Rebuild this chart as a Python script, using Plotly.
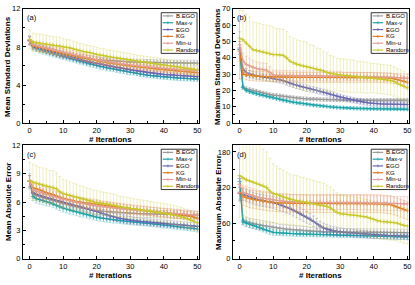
import plotly.graph_objects as go

names = ["B.EGO", "Max-v", "EGO", "KG", "Min-u", "Random"]
colors = ["#9b9b9b", "#1ba3a8", "#6767b3", "#e07a1c", "#e79a9a", "#c8c82a"]
bar_colors = ["rgba(150,150,150,0.55)", "rgba(27,163,168,0.45)", "rgba(103,103,179,0.45)",
              "rgba(224,122,28,0.45)", "rgba(231,154,154,0.55)", "rgba(205,205,60,0.45)"]

panel_letters = ["(a)", "(b)", "(c)", "(d)"]
y_titles = ["Mean Standard Deviations", "Maximum Standard Deviations",
            "Mean Absolute Error", "Maximum Absolute Error"]
x_title = "# Iterations"
y_ranges = [[0, 12], [0, 70], [0, 12], [0, 191]]
y_dticks = [4, 10, 3, 60]

# ---------------- (a) Mean Standard Deviations ----------------
bego_a = [8.7, 8.2, 8.05, 7.9, 7.8, 7.7, 7.6, 7.5, 7.4, 7.3, 7.22,
          7.14, 7.06, 7.0, 6.94, 6.88, 6.83, 6.78, 6.74, 6.7, 6.66,
          6.63, 6.6, 6.57, 6.54, 6.52, 6.5, 6.48, 6.46, 6.44, 6.43,
          6.42, 6.41, 6.4, 6.39, 6.38, 6.37, 6.36, 6.35, 6.35, 6.34,
          6.34, 6.33, 6.33, 6.32, 6.32, 6.31, 6.31, 6.3, 6.3, 6.3]
maxv_a = [8.7, 8.0, 7.85, 7.7, 7.6, 7.5, 7.4, 7.3, 7.2, 7.1, 7.0,
          6.9, 6.8, 6.7, 6.6, 6.5, 6.4, 6.3, 6.2, 6.15, 6.05,
          5.95, 5.9, 5.8, 5.75, 5.7, 5.62, 5.55, 5.5, 5.42, 5.35,
          5.3, 5.22, 5.15, 5.1, 5.05, 5.0, 4.96, 4.92, 4.88, 4.85,
          4.82, 4.79, 4.76, 4.74, 4.72, 4.7, 4.68, 4.66, 4.65, 4.63]
ego_a = [8.7, 8.1, 7.95, 7.85, 7.75, 7.65, 7.55, 7.45, 7.35, 7.25, 7.15,
         7.05, 6.95, 6.85, 6.75, 6.65, 6.58, 6.5, 6.42, 6.35, 6.28,
         6.2, 6.12, 6.05, 5.98, 5.9, 5.84, 5.78, 5.72, 5.66, 5.6,
         5.55, 5.5, 5.44, 5.38, 5.33, 5.28, 5.24, 5.2, 5.16, 5.12,
         5.09, 5.06, 5.03, 5.0, 4.98, 4.96, 4.94, 4.92, 4.9, 4.88]
kg_a = [8.6, 8.15, 8.05, 7.95, 7.85, 7.78, 7.7, 7.6, 7.5, 7.42, 7.33,
        7.25, 7.17, 7.08, 7.0, 6.92, 6.84, 6.77, 6.7, 6.62, 6.55,
        6.48, 6.42, 6.36, 6.3, 6.24, 6.19, 6.14, 6.09, 6.04, 6.0,
        5.96, 5.92, 5.88, 5.84, 5.8, 5.76, 5.72, 5.68, 5.64, 5.6,
        5.57, 5.54, 5.51, 5.48, 5.45, 5.42, 5.39, 5.36, 5.33, 5.3]
minu_a = [8.7, 8.25, 8.15, 8.05, 7.95, 7.88, 7.8, 7.7, 7.6, 7.52, 7.44,
          7.36, 7.28, 7.2, 7.12, 7.04, 6.96, 6.88, 6.8, 6.72, 6.65,
          6.58, 6.52, 6.46, 6.4, 6.34, 6.29, 6.24, 6.19, 6.14, 6.1,
          6.06, 6.02, 5.98, 5.94, 5.9, 5.87, 5.84, 5.81, 5.78, 5.75,
          5.72, 5.69, 5.66, 5.63, 5.6, 5.58, 5.56, 5.54, 5.52, 5.5]
rand_a = [8.8, 8.5, 8.45, 8.4, 8.35, 8.3, 8.25, 8.2, 8.15, 8.1, 8.0,
          7.95, 7.9, 7.8, 7.7, 7.6, 7.5, 7.45, 7.4, 7.3, 7.2,
          7.15, 7.1, 7.0, 6.95, 6.9, 6.85, 6.8, 6.7, 6.65, 6.6,
          6.55, 6.5, 6.45, 6.4, 6.35, 6.3, 6.25, 6.2, 6.15, 6.1,
          6.05, 6.0, 5.95, 5.9, 5.85, 5.8, 5.75, 5.7, 5.65, 5.6]

bego_a_err = [0.45, 0.35, 0.35, 0.35, 0.35, 0.35, 0.35, 0.35, 0.35, 0.35, 0.35,
              0.35, 0.35, 0.35, 0.35, 0.35, 0.35, 0.35, 0.35, 0.35, 0.35,
              0.3, 0.3, 0.3, 0.3, 0.3, 0.3, 0.3, 0.3, 0.3, 0.3,
              0.3, 0.3, 0.3, 0.3, 0.3, 0.3, 0.3, 0.3, 0.3, 0.3,
              0.3, 0.3, 0.3, 0.3, 0.3, 0.3, 0.3, 0.3, 0.3, 0.3]
maxv_a_err = [0.4, 0.35, 0.35, 0.35, 0.35, 0.35, 0.35, 0.35, 0.35, 0.35, 0.3,
              0.3, 0.3, 0.3, 0.3, 0.3, 0.3, 0.3, 0.3, 0.3, 0.3,
              0.3, 0.3, 0.3, 0.3, 0.3, 0.3, 0.3, 0.3, 0.3, 0.3,
              0.25, 0.25, 0.25, 0.25, 0.25, 0.25, 0.25, 0.25, 0.25, 0.25,
              0.25, 0.25, 0.25, 0.25, 0.25, 0.25, 0.25, 0.25, 0.25, 0.25]
ego_a_err = [0.4, 0.35, 0.35, 0.35, 0.35, 0.35, 0.35, 0.35, 0.35, 0.35, 0.35,
             0.3, 0.3, 0.3, 0.3, 0.3, 0.3, 0.3, 0.3, 0.3, 0.3,
             0.3, 0.3, 0.3, 0.3, 0.3, 0.3, 0.3, 0.3, 0.3, 0.3,
             0.3, 0.3, 0.3, 0.3, 0.3, 0.3, 0.3, 0.3, 0.3, 0.3,
             0.25, 0.25, 0.25, 0.25, 0.25, 0.25, 0.25, 0.25, 0.25, 0.25]
kg_a_err = [0.45, 0.4, 0.4, 0.4, 0.4, 0.4, 0.4, 0.4, 0.4, 0.4, 0.4,
            0.35, 0.35, 0.35, 0.35, 0.35, 0.35, 0.35, 0.35, 0.35, 0.35,
            0.35, 0.35, 0.35, 0.35, 0.35, 0.35, 0.35, 0.35, 0.35, 0.35,
            0.3, 0.3, 0.3, 0.3, 0.3, 0.3, 0.3, 0.3, 0.3, 0.3,
            0.3, 0.3, 0.3, 0.3, 0.3, 0.3, 0.3, 0.3, 0.3, 0.3]
minu_a_err = [0.45, 0.4, 0.4, 0.4, 0.4, 0.4, 0.4, 0.4, 0.4, 0.4, 0.4,
              0.4, 0.4, 0.4, 0.4, 0.35, 0.35, 0.35, 0.35, 0.35, 0.35,
              0.35, 0.35, 0.35, 0.35, 0.35, 0.35, 0.35, 0.35, 0.35, 0.35,
              0.35, 0.35, 0.35, 0.35, 0.35, 0.35, 0.35, 0.35, 0.35, 0.35,
              0.3, 0.3, 0.3, 0.3, 0.3, 0.3, 0.3, 0.3, 0.3, 0.3]
rand_a_err = [1.0, 0.95, 0.95, 0.95, 0.95, 0.9, 0.9, 0.9, 0.9, 0.9, 0.85,
              0.85, 0.85, 0.8, 0.8, 0.8, 0.8, 0.75, 0.75, 0.75, 0.75,
              0.7, 0.7, 0.7, 0.7, 0.7, 0.7, 0.7, 0.7, 0.7, 0.7,
              0.65, 0.65, 0.65, 0.65, 0.65, 0.65, 0.65, 0.65, 0.65, 0.65,
              0.6, 0.6, 0.6, 0.6, 0.6, 0.6, 0.6, 0.6, 0.6, 0.6]

# ---------------- (b) Maximum Standard Deviations ----------------
bego_b = [45, 22, 21, 20.5, 20, 19.5, 19, 18.5, 18, 17.5, 17.2,
          17, 16.7, 16.4, 16.1, 15.8, 15.6, 15.4, 15.2, 15, 14.9,
          14.8, 14.7, 14.6, 14.5, 14.4, 14.4, 14.3, 14.3, 14.2, 14.2,
          14.2, 14.1, 14.1, 14.1, 14.1, 14.1, 14, 14, 14, 14,
          14, 14, 14, 14, 14, 14, 14, 14, 14, 14]
maxv_b = [45, 22, 20, 19.2, 18.5, 18, 17.5, 17, 16.5, 16, 15.5,
          15, 14.5, 14, 13.6, 13.2, 12.8, 12.5, 12.2, 11.9, 11.6,
          11.3, 11, 10.8, 10.6, 10.4, 10.2, 10, 9.8, 9.6, 9.5,
          9.4, 9.3, 9.2, 9.1, 9, 8.95, 8.9, 8.85, 8.8, 8.8,
          8.75, 8.75, 8.7, 8.7, 8.65, 8.65, 8.6, 8.6, 8.55, 8.5]
ego_b = [46, 33, 31, 30, 29.5, 29, 28.7, 28.4, 28.1, 27.8, 27.5,
         27, 26.5, 26, 25.2, 24.5, 23.8, 23.2, 22.6, 22, 21.5,
         21, 20.5, 20, 19.5, 19, 18.5, 17.8, 17.2, 16.6, 16,
         15.5, 15, 14.5, 14, 13.6, 13.2, 12.8, 12.5, 12.2, 12,
         11.9, 11.8, 11.7, 11.6, 11.6, 11.5, 11.5, 11.5, 11.4, 11.4]
kg_b = [44, 30, 29.5, 29.2, 29, 28.8, 28.7, 28.6, 28.5, 28.4, 28.3,
        28.3, 28.2, 28.2, 28.2, 28.1, 28.1, 28.1, 28, 28, 28,
        28, 28, 28, 28, 28, 28, 28, 28, 28, 28,
        28, 28, 28, 28, 28, 28, 28, 28, 28, 27.9,
        27.9, 27.8, 27.8, 27.7, 27.5, 27.2, 26.8, 26.2, 25.6, 25]
minu_b = [48, 38, 36, 35, 34, 33.5, 33, 32.8, 32.5, 31, 29.5,
          29.4, 29.3, 29.2, 29.2, 29.1, 29.1, 29, 29, 29, 29,
          29, 29, 29, 29, 28.9, 28.9, 28.8, 28.8, 28.8, 28.7,
          28.7, 28.7, 28.6, 28.6, 28.6, 28.5, 28.5, 28.5, 28.4, 28.4,
          28.3, 28.3, 28.2, 28.2, 28.1, 28, 27.9, 27.8, 27.6, 27.4]
rand_b = [52, 51, 49, 47, 45, 44.5, 44, 43.5, 43, 42.5, 42,
          42, 41.8, 41.5, 40, 38, 37, 36, 35.5, 35, 34.5,
          34, 33.5, 33, 32.5, 32, 31, 30.5, 30, 29.8, 29.5,
          29.3, 29, 28.8, 28.6, 28.4, 28.2, 28, 27.8, 27.7, 27.5,
          27.3, 27, 26.8, 26.5, 26.2, 25.5, 24.5, 23.5, 22.5, 21.5]

bego_b_err = [18, 1.2, 1.2, 1.1, 1.1, 1.1, 1.0, 1.0, 1.0, 1.0, 1.0,
              1.0, 1.0, 1.0, 1.0, 1.0, 1.0, 1.0, 1.0, 1.0, 1.0,
              1.0, 1.0, 1.0, 1.0, 1.0, 1.0, 1.0, 1.0, 1.0, 1.0,
              1.0, 1.0, 1.0, 1.0, 1.0, 1.0, 1.0, 1.0, 1.0, 1.0,
              1.0, 1.0, 1.0, 1.0, 1.0, 1.0, 1.0, 1.0, 1.0, 1.0]
maxv_b_err = [3, 1.2, 1.0, 1.0, 1.0, 1.0, 1.0, 1.0, 1.0, 1.0, 1.0,
              0.9, 0.9, 0.9, 0.9, 0.9, 0.9, 0.9, 0.9, 0.9, 0.9,
              0.8, 0.8, 0.8, 0.8, 0.8, 0.8, 0.8, 0.8, 0.8, 0.8,
              0.8, 0.8, 0.8, 0.8, 0.8, 0.8, 0.8, 0.8, 0.8, 0.8,
              0.8, 0.8, 0.8, 0.8, 0.8, 0.8, 0.8, 0.8, 0.8, 0.8]
ego_b_err = [4, 2.5, 2.5, 2.2, 2.2, 2.2, 2.0, 2.0, 2.0, 2.0, 2.0,
             2.0, 2.0, 2.0, 2.0, 2.0, 2.0, 2.0, 2.0, 2.0, 2.0,
             1.8, 1.8, 1.8, 1.8, 1.8, 1.8, 1.8, 1.8, 1.8, 1.8,
             1.6, 1.6, 1.6, 1.6, 1.6, 1.6, 1.6, 1.6, 1.6, 1.6,
             1.5, 1.5, 1.5, 1.5, 1.5, 1.5, 1.5, 1.5, 1.5, 1.5]
kg_b_err = [6, 3, 3, 3, 3, 3, 3, 3, 3, 3, 3,
            3, 3, 3, 3, 3, 3, 3, 3, 3, 3,
            3, 3, 3, 3, 3, 3, 3, 3, 3, 3,
            3, 3, 3, 3, 3, 3, 3, 3, 3, 3,
            3, 3, 3, 3, 3, 3, 3, 3, 3, 3]
minu_b_err = [8, 5, 5, 4.5, 4.5, 4, 4, 4, 4, 3.5, 3,
              3, 3, 3, 3, 3, 3, 3, 3, 3, 3,
              3, 3, 3, 3, 3, 3, 3, 3, 3, 3,
              2.5, 2.5, 2.5, 2.5, 2.5, 2.5, 2.5, 2.5, 2.5, 2.5,
              2.5, 2.5, 2.5, 2.5, 2.5, 2.5, 2.5, 2.5, 2.5, 2.5]
rand_b_err = [17, 18, 18, 18, 17, 17, 17, 17, 17, 17, 17,
              16, 16, 16, 16, 15, 15, 15, 15, 15, 15,
              14, 14, 13, 13, 12, 12, 11, 11, 10, 10,
              10, 10, 10, 10, 9.5, 9.5, 9.5, 9.5, 9, 9,
              9, 9, 9, 9, 9, 9, 9, 9, 9, 9]

# ---------------- (c) Mean Absolute Error ----------------
bego_c = [8.2, 6.9, 6.7, 6.55, 6.45, 6.35, 6.25, 6.15, 6.05, 5.95, 5.85,
          5.75, 5.65, 5.55, 5.48, 5.4, 5.33, 5.26, 5.2, 5.14, 5.1,
          5.06, 5.02, 4.99, 4.96, 4.93, 4.9, 4.88, 4.86, 4.84, 4.82,
          4.8, 4.79, 4.78, 4.77, 4.76, 4.75, 4.74, 4.73, 4.72, 4.71,
          4.7, 4.69, 4.68, 4.67, 4.66, 4.65, 4.64, 4.63, 4.62, 4.6]
maxv_c = [8.2, 6.6, 6.35, 6.25, 6.15, 6.05, 5.95, 5.8, 5.65, 5.5, 5.35,
          5.25, 5.15, 5.05, 4.95, 4.85, 4.75, 4.65, 4.55, 4.45, 4.38,
          4.32, 4.27, 4.22, 4.17, 4.12, 4.07, 4.02, 3.98, 3.94, 3.9,
          3.87, 3.84, 3.81, 3.78, 3.75, 3.71, 3.67, 3.63, 3.59, 3.55,
          3.52, 3.48, 3.44, 3.4, 3.36, 3.32, 3.28, 3.24, 3.2, 3.15]
ego_c = [8.2, 7.0, 6.85, 6.7, 6.6, 6.5, 6.4, 6.3, 6.2, 6.1, 6.0,
         5.9, 5.8, 5.7, 5.62, 5.55, 5.45, 5.35, 5.22, 5.1, 5.0,
         4.88, 4.76, 4.64, 4.52, 4.42, 4.34, 4.27, 4.2, 4.14, 4.08,
         4.03, 3.99, 3.95, 3.91, 3.88, 3.85, 3.82, 3.79, 3.76, 3.73,
         3.7, 3.67, 3.64, 3.61, 3.58, 3.55, 3.52, 3.49, 3.46, 3.43]
kg_c = [8.2, 7.5, 7.4, 7.3, 7.15, 7.0, 6.9, 6.8, 6.65, 6.5, 6.4,
        6.3, 6.2, 6.12, 6.05, 6.0, 5.95, 5.9, 5.85, 5.8, 5.75,
        5.7, 5.65, 5.6, 5.55, 5.5, 5.45, 5.4, 5.35, 5.3, 5.25,
        5.22, 5.18, 5.15, 5.1, 5.06, 5.02, 4.98, 4.94, 4.9, 4.86,
        4.82, 4.78, 4.74, 4.7, 4.65, 4.6, 4.55, 4.48, 4.4, 4.3]
minu_c = [8.2, 7.3, 7.15, 7.0, 6.9, 6.8, 6.7, 6.6, 6.5, 6.4, 6.3,
          6.2, 6.12, 6.04, 5.96, 5.9, 5.84, 5.78, 5.72, 5.66, 5.6,
          5.55, 5.5, 5.46, 5.42, 5.38, 5.34, 5.3, 5.26, 5.22, 5.18,
          5.15, 5.12, 5.09, 5.06, 5.03, 5.0, 4.97, 4.94, 4.92, 4.9,
          4.87, 4.84, 4.81, 4.78, 4.75, 4.72, 4.69, 4.66, 4.63, 4.6]
rand_c = [8.3, 8.1, 8.0, 7.9, 7.8, 7.7, 7.6, 7.55, 7.4, 7.1, 6.9,
          6.8, 6.7, 6.6, 6.5, 6.4, 6.3, 6.2, 6.1, 6.0, 5.95,
          5.9, 5.85, 5.8, 5.75, 5.7, 5.6, 5.5, 5.45, 5.4, 5.35,
          5.3, 5.25, 5.2, 5.15, 5.1, 5.05, 5.0, 4.95, 4.9, 4.85,
          4.78, 4.7, 4.62, 4.55, 4.45, 4.35, 4.25, 4.1, 3.95, 3.8]

bego_c_err = [0.8, 0.5, 0.5, 0.5, 0.5, 0.5, 0.5, 0.5, 0.5, 0.5, 0.5,
              0.45, 0.45, 0.45, 0.45, 0.45, 0.45, 0.45, 0.45, 0.45, 0.45,
              0.4, 0.4, 0.4, 0.4, 0.4, 0.4, 0.4, 0.4, 0.4, 0.4,
              0.4, 0.4, 0.4, 0.4, 0.4, 0.4, 0.4, 0.4, 0.4, 0.4,
              0.4, 0.4, 0.4, 0.4, 0.4, 0.4, 0.4, 0.4, 0.4, 0.4]
maxv_c_err = [0.6, 0.45, 0.45, 0.45, 0.45, 0.45, 0.4, 0.4, 0.4, 0.4, 0.4,
              0.4, 0.4, 0.4, 0.4, 0.4, 0.35, 0.35, 0.35, 0.35, 0.35,
              0.35, 0.35, 0.35, 0.35, 0.35, 0.3, 0.3, 0.3, 0.3, 0.3,
              0.3, 0.3, 0.3, 0.3, 0.3, 0.3, 0.3, 0.3, 0.3, 0.3,
              0.3, 0.3, 0.3, 0.3, 0.3, 0.3, 0.3, 0.3, 0.3, 0.3]
ego_c_err = [0.6, 0.45, 0.45, 0.45, 0.45, 0.45, 0.45, 0.45, 0.45, 0.45, 0.45,
             0.45, 0.45, 0.45, 0.45, 0.45, 0.45, 0.45, 0.45, 0.45, 0.45,
             0.4, 0.4, 0.4, 0.4, 0.4, 0.4, 0.4, 0.4, 0.4, 0.4,
             0.35, 0.35, 0.35, 0.35, 0.35, 0.35, 0.35, 0.35, 0.35, 0.35,
             0.35, 0.35, 0.35, 0.35, 0.35, 0.35, 0.35, 0.35, 0.35, 0.35]
kg_c_err = [0.6, 0.5, 0.5, 0.5, 0.5, 0.5, 0.5, 0.5, 0.5, 0.5, 0.5,
            0.5, 0.5, 0.5, 0.5, 0.5, 0.5, 0.5, 0.5, 0.5, 0.5,
            0.45, 0.45, 0.45, 0.45, 0.45, 0.45, 0.45, 0.45, 0.45, 0.45,
            0.45, 0.45, 0.45, 0.45, 0.45, 0.45, 0.45, 0.45, 0.45, 0.45,
            0.45, 0.45, 0.45, 0.45, 0.45, 0.45, 0.45, 0.45, 0.45, 0.45]
minu_c_err = [0.6, 0.55, 0.55, 0.55, 0.55, 0.55, 0.55, 0.55, 0.55, 0.55, 0.55,
              0.5, 0.5, 0.5, 0.5, 0.5, 0.5, 0.5, 0.5, 0.5, 0.5,
              0.5, 0.5, 0.5, 0.5, 0.5, 0.5, 0.5, 0.5, 0.5, 0.5,
              0.45, 0.45, 0.45, 0.45, 0.45, 0.45, 0.45, 0.45, 0.45, 0.45,
              0.45, 0.45, 0.45, 0.45, 0.45, 0.45, 0.45, 0.45, 0.45, 0.45]
rand_c_err = [1.9, 1.9, 1.85, 1.8, 1.8, 1.8, 1.75, 1.75, 1.7, 1.6, 1.5,
              1.5, 1.45, 1.4, 1.4, 1.35, 1.35, 1.3, 1.3, 1.25, 1.25,
              1.2, 1.2, 1.2, 1.15, 1.15, 1.15, 1.1, 1.1, 1.1, 1.1,
              1.05, 1.05, 1.05, 1.05, 1.05, 1.0, 1.0, 1.0, 1.0, 1.0,
              1.0, 1.0, 1.0, 1.0, 1.0, 1.0, 1.0, 1.0, 1.0, 1.0]

# ---------------- (d) Maximum Absolute Error ----------------
bego_d = [135, 65, 62, 60, 59, 58, 57, 56, 55, 54, 53,
          52, 51, 50.5, 50, 49.5, 49, 48.5, 48, 47.5, 47,
          46.5, 46, 45.8, 45.6, 45.4, 45.3, 45.2, 45.1, 45, 45,
          45, 44.9, 44.8, 44.7, 44.6, 44.5, 44.5, 44.4, 44.4, 44.3,
          44.3, 44.2, 44.2, 44.1, 44.1, 44, 44, 44, 43.9, 43.8]
maxv_d = [130, 62, 60, 58, 56, 54, 52, 50, 48, 46, 44.5,
          44, 43.5, 43, 43, 42.5, 42.3, 42, 41.8, 41.6, 41.4,
          41.2, 41, 40.9, 40.8, 40.7, 40.6, 40.5, 40.3, 40.2, 40,
          39.9, 39.7, 39.6, 39.4, 39.3, 39.1, 39, 38.8, 38.7, 38.5,
          38.3, 38.1, 37.9, 37.7, 37.5, 37.3, 37.1, 36.9, 36.7, 36.5]
ego_d = [110, 108, 106, 104, 102, 100, 99, 98, 97, 96, 95,
         93, 91, 89, 87, 85, 82, 79, 76, 73, 70,
         67, 63, 59, 55, 52, 50, 48.5, 47, 46, 45,
         44.5, 44, 43.5, 43, 42.5, 42, 41.5, 41, 40.5, 40,
         39.8, 39.6, 39.4, 39.2, 39, 38.8, 38.6, 38.4, 38.2, 38]
kg_d = [112, 105, 103, 101, 100, 99, 98, 97, 96, 95.5, 95,
        94.5, 94, 94, 93.8, 93.6, 93.5, 93.4, 93.3, 93.2, 93.1,
        93, 93, 93, 93, 93, 93, 93, 93, 93, 93,
        93, 93, 93, 93, 93, 93, 93, 93, 93, 93,
        92.8, 92.5, 92, 91.5, 91, 89, 87, 85, 83, 81]
minu_d = [125, 112, 110, 108, 106, 104, 103, 102, 101, 100, 99,
          98, 97.5, 97, 96.5, 96, 95.8, 95.6, 95.4, 95.2, 95,
          95, 95, 95, 95, 95, 95, 95, 95, 95, 95,
          95, 95, 95, 95, 95, 94.8, 94.6, 94.4, 94.2, 94,
          94, 93.8, 93.6, 93.4, 93.2, 93, 93, 92.8, 92.6, 92.5]
rand_d = [140, 136, 133, 131, 129, 127, 125, 123, 120, 114, 110,
          108, 106, 104, 102, 100, 99, 98, 97, 96, 95,
          94, 93, 92, 91, 90, 88, 86, 82, 78, 76,
          75, 74.5, 74, 73.5, 73, 72, 71, 70, 68, 66,
          64, 63, 62.5, 62, 61.5, 61, 60, 58, 56, 55]

bego_d_err = [35, 8, 8, 8, 8, 8, 8, 8, 8, 8, 8,
              7, 7, 7, 7, 7, 7, 7, 7, 7, 7,
              6, 6, 6, 6, 6, 6, 6, 6, 6, 6,
              6, 6, 6, 6, 6, 6, 6, 6, 6, 6,
              6, 6, 6, 6, 6, 6, 6, 6, 6, 6]
maxv_d_err = [10, 5, 5, 5, 5, 5, 5, 5, 5, 5, 5,
              4.5, 4.5, 4.5, 4.5, 4.5, 4.5, 4.5, 4.5, 4.5, 4.5,
              4, 4, 4, 4, 4, 4, 4, 4, 4, 4,
              4, 4, 4, 4, 4, 4, 4, 4, 4, 4,
              4, 4, 4, 4, 4, 4, 4, 4, 4, 4]
ego_d_err = [12, 10, 10, 10, 10, 10, 10, 10, 10, 10, 10,
             10, 10, 10, 10, 10, 10, 10, 10, 10, 10,
             9, 9, 9, 8, 8, 8, 7, 7, 7, 7,
             6, 6, 6, 6, 6, 6, 6, 6, 6, 6,
             6, 6, 6, 6, 6, 6, 6, 6, 6, 6]
kg_d_err = [15, 15, 15, 15, 15, 15, 15, 15, 15, 15, 15,
            15, 15, 15, 15, 15, 15, 15, 15, 15, 15,
            15, 15, 15, 15, 15, 15, 15, 15, 15, 15,
            15, 15, 15, 15, 15, 15, 15, 15, 15, 15,
            15, 15, 15, 15, 15, 15, 15, 15, 15, 15]
minu_d_err = [14, 12, 12, 12, 12, 12, 12, 12, 12, 12, 12,
              12, 12, 12, 12, 12, 12, 12, 12, 12, 12,
              12, 12, 12, 12, 12, 12, 12, 12, 12, 12,
              12, 12, 12, 12, 12, 12, 12, 12, 12, 12,
              12, 12, 12, 12, 12, 12, 12, 12, 12, 12]
rand_d_err = [70, 65, 65, 65, 65, 65, 65, 62, 60, 55, 50,
              48, 46, 45, 44, 43, 42, 42, 41, 41, 40,
              40, 39, 38, 38, 37, 36, 35, 34, 33, 32,
              32, 31, 31, 31, 30, 30, 30, 30, 30, 30,
              30, 30, 30, 30, 30, 30, 30, 30, 30, 30]

panel_values = [
    [bego_a, maxv_a, ego_a, kg_a, minu_a, rand_a],
    [bego_b, maxv_b, ego_b, kg_b, minu_b, rand_b],
    [bego_c, maxv_c, ego_c, kg_c, minu_c, rand_c],
    [bego_d, maxv_d, ego_d, kg_d, minu_d, rand_d],
]
panel_errors = [
    [bego_a_err, maxv_a_err, ego_a_err, kg_a_err, minu_a_err, rand_a_err],
    [bego_b_err, maxv_b_err, ego_b_err, kg_b_err, minu_b_err, rand_b_err],
    [bego_c_err, maxv_c_err, ego_c_err, kg_c_err, minu_c_err, rand_c_err],
    [bego_d_err, maxv_d_err, ego_d_err, kg_d_err, minu_d_err, rand_d_err],
]

W, H = 415, 285
# plot-area pixel boxes (left, right, top, bottom)
boxes = [(23, 200, 5, 123), (234, 411, 5, 123), (23, 200, 146, 263), (234, 411, 146, 263)]

FONT = "Liberation Sans, Arial, sans-serif"

fig = go.Figure()
layout = dict(width=W, height=H, margin=dict(l=0, r=0, t=0, b=0), autosize=False,
              paper_bgcolor="white", plot_bgcolor="white", showlegend=False)
shapes = []
annotations = []

for p in range(4):
    s = "" if p == 0 else str(p + 1)
    L, R, T, B = boxes[p]
    xd = [L / W, R / W]
    yd = [1 - B / H, 1 - T / H]
    axis_common = dict(showline=True, linecolor="black", linewidth=1, mirror=True,
                       ticks="inside", ticklen=3, tickwidth=1, tickcolor="black",
                       showgrid=False, zeroline=False,
                       tickfont=dict(family=FONT, size=7.5, color="black"))
    layout["xaxis" + s] = dict(domain=xd, range=[-2, 50.5], tickvals=[0, 10, 20, 30, 40, 50],
                               anchor="y" + s, ticklabelstandoff=0,
                               minor=dict(ticks="inside", ticklen=2, dtick=5, tick0=0, tickcolor="black"),
                               **axis_common)
    layout["yaxis" + s] = dict(domain=yd, range=y_ranges[p], dtick=y_dticks[p], tick0=0,
                               anchor="x" + s,
                               minor=dict(ticks="inside", ticklen=2, dtick=y_dticks[p] / 2,
                                          tick0=0, tickcolor="black"),
                               **axis_common)

    for k in range(6):
        vals = panel_values[p][k]
        errs = panel_errors[p][k]
        fig.add_trace(go.Scatter(
            x=list(range(len(vals))), y=vals, name=names[k], mode="lines+markers",
            xaxis="x" + s, yaxis="y" + s,
            line=dict(color=colors[k], width=1.3),
            marker=dict(symbol="cross-thin", size=3, line=dict(color=colors[k], width=0.8)),
            error_y=dict(type="data", array=errs, visible=True, color=bar_colors[k],
                         thickness=0.7, width=1.5),
        ))

    # panel letter
    annotations.append(dict(text=panel_letters[p], xref="x" + s + " domain", yref="y" + s + " domain",
                            x=0.012, y=0.92, xanchor="left", yanchor="middle", showarrow=False,
                            font=dict(family=FONT, size=7.5, color="black")))
    # axis titles
    annotations.append(dict(text="<b>" + y_titles[p] + "</b>", xref="paper", yref="paper",
                            x=(L - 15) / W, y=1 - (T + B) / 2 / H, textangle=-90,
                            xanchor="center", yanchor="middle", showarrow=False,
                            font=dict(family=FONT, size=8, color="black")))
    annotations.append(dict(text="<b>" + x_title + "</b>", xref="paper", yref="paper",
                            x=(L + R) / 2 / W, y=1 - (B + 11.5) / H,
                            xanchor="center", yanchor="top", showarrow=False, borderpad=0,
                            font=dict(family=FONT, size=8, color="black")))

    # legend box (drawn by hand)
    lx0, lx1 = (162 - 23) / 177, (198 - 23) / 177
    ly1, ly0 = 1 - (9 - 5) / 118, 1 - (51 - 5) / 118
    shapes.append(dict(type="rect", xref="x" + s + " domain", yref="y" + s + " domain",
                       x0=lx0, x1=lx1, y0=ly0, y1=ly1,
                       line=dict(color="black", width=0.8), fillcolor="white", layer="above"))
    for k in range(6):
        yc = 1 - (12.3 + 7.05 * k - 5) / 118
        shapes.append(dict(type="line", xref="x" + s + " domain", yref="y" + s + " domain",
                           x0=(163.5 - 23) / 177, x1=(174 - 23) / 177, y0=yc, y1=yc,
                           line=dict(color=colors[k], width=1.2), layer="above"))
        shapes.append(dict(type="line", xref="x" + s + " domain", yref="y" + s + " domain",
                           x0=(168.75 - 23) / 177, x1=(168.75 - 23) / 177,
                           y0=yc - 1.5 / 118, y1=yc + 1.5 / 118,
                           line=dict(color=colors[k], width=0.8), layer="above"))
        annotations.append(dict(text=names[k], xref="x" + s + " domain", yref="y" + s + " domain",
                                x=(175 - 23) / 177, y=yc, xanchor="left", yanchor="middle",
                                showarrow=False,
                                font=dict(family=FONT, size=6, color="black")))

layout["shapes"] = shapes
layout["annotations"] = annotations
fig.update_layout(**layout)
fig.write_html("out.html", config={"displayModeBar": False},
               post_script="document.body.style.margin='0';document.body.style.padding='0';"
                           "document.body.style.overflow='hidden';")
